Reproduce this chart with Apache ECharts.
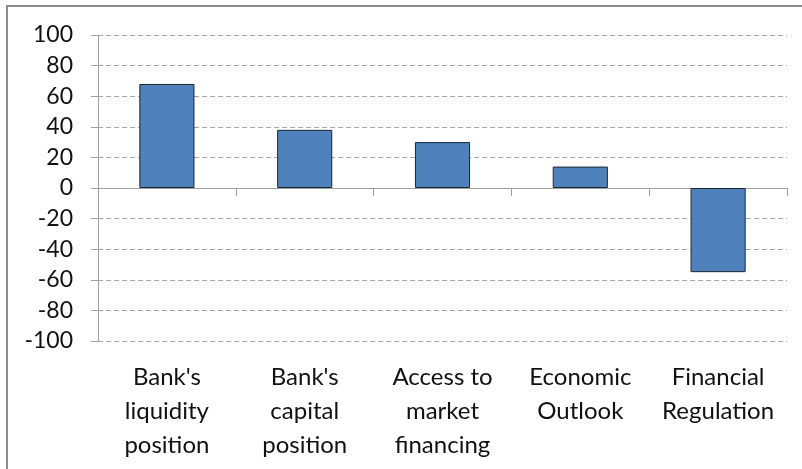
<!DOCTYPE html>
<html>
<head>
<meta charset="utf-8">
<script src="https://cdn.jsdelivr.net/npm/echarts@6/dist/echarts.min.js"></script>
<style>
  html, body { margin: 0; padding: 0; background: #fff; }
  #chart { width: 802px; height: 469px; }
</style>
</head>
<body>
<div id="chart"></div>
<script>
// factors and net balance values
const categories = [
  "Bank's\nliquidity\nposition",
  "Bank's\ncapital\nposition",
  "Access to\nmarket\nfinancing",
  "Economic\nOutlook",
  "Financial\nRegulation",
];
const values = [68, 38, 30, 14, -55];
const yTicks = { min: -100, max: 100, interval: 20 };

const font = "Lato, 'Open Sans', sans-serif";
const chart = echarts.init(document.getElementById("chart"));

chart.setOption({
  animation: false,
  graphic: [
    {
      type: "rect",
      shape: { x: 7, y: 6, width: 900, height: 600 },
      style: { fill: "none", stroke: "#8c8c8c", lineWidth: 2 },
    },
  ],
  grid: { left: 98, right: 15, top: 35, bottom: 128 },
  xAxis: [
    {
      type: "category",
      data: categories,
      axisLine: { onZero: true, lineStyle: { color: "#a0a0a0", width: 1 } },
      axisTick: { show: true, length: 8, lineStyle: { color: "#a0a0a0" } },
      axisLabel: { show: false },
    },
    {
      type: "category",
      data: categories,
      position: "bottom",
      axisLine: { show: false, onZero: false },
      axisTick: { show: false },
      axisLabel: {
        show: true,
        interval: 0,
        margin: 19,
        color: "#111",
        fontFamily: font,
        fontSize: 24,
        lineHeight: 34,
        align: "center",
      },
    },
  ],
  yAxis: {
    type: "value",
    min: yTicks.min,
    max: yTicks.max,
    interval: yTicks.interval,
    axisLine: { show: true, lineStyle: { color: "#a0a0a0" } },
    axisTick: { show: true, length: 7, lineStyle: { color: "#a0a0a0" } },
    axisLabel: { color: "#111", fontFamily: font, fontSize: 23, margin: 25 },
    splitLine: {
      show: true,
      lineStyle: { color: "#a8a8a8", type: [5, 3], width: 1 },
    },
  },
  series: [
    {
      type: "bar",
      xAxisIndex: 0,
      barWidth: "40%",
      itemStyle: { color: "#4f81bd", borderColor: "#1c2633", borderWidth: 1 },
      data: values,
    },
  ],
});
</script>
</body>
</html>
